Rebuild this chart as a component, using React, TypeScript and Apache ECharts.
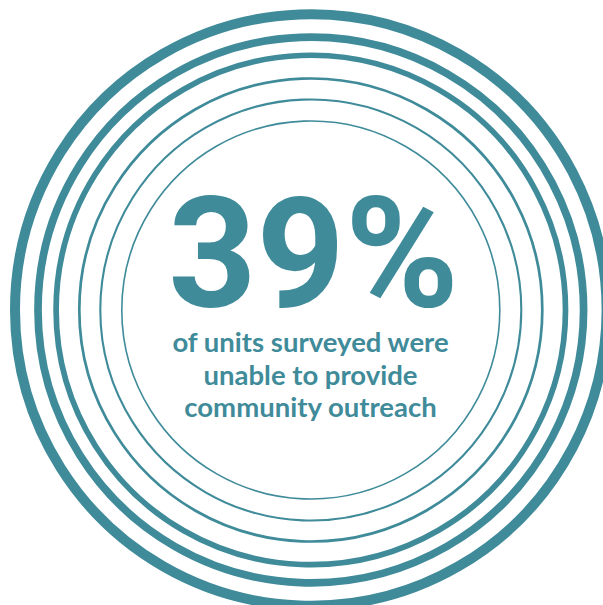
import React, { useEffect, useRef } from "react";
import * as echarts from "echarts";

// ---- data ----
const headlineValue = [39];
const headlineUnit = ["%"];
const captionLines = [
  "of units surveyed were",
  "unable to provide",
  "community outreach",
];

// ---- layout / style ----
const TEAL = "#3f8b9a";
const CX = 310.8;
const CY = 310;
const RING_RADII = [295.8, 272.8, 254.7, 231.5, 210.5, 189];
const RING_WIDTHS = [10, 7.7, 5.7, 2.7, 2.1, 1.6];

export default function App() {
  const ref = useRef<HTMLDivElement>(null);
  useEffect(() => {
    if (!ref.current) return;
    const chart = echarts.init(ref.current, undefined, { renderer: "svg" });
    const rings = RING_RADII.map((r, i) => ({
      type: "circle",
      shape: { cx: CX, cy: CY, r },
      style: { fill: "none", stroke: TEAL, lineWidth: RING_WIDTHS[i] },
      silent: true,
    }));
    const headline = {
      type: "text",
      x: 313.5,
      y: 254,
      style: {
        text: `${headlineValue[0]}${headlineUnit[0]}`,
        fill: TEAL,
        font: "bold 154px Roboto",
        lineHeight: 112,
        textAlign: "center",
        textVerticalAlign: "middle",
        verticalAlign: "middle",
      },
    };
    const captionY = [341, 374, 406];
    const captions = captionLines.map((t, i) => ({
      type: "text",
      x: 310.5,
      y: captionY[i],
      style: {
        text: t,
        fill: TEAL,
        font: "bold 27.5px Lato",
        lineHeight: 30,
        textAlign: "center",
        textVerticalAlign: "middle",
        verticalAlign: "middle",
      },
    }));
    chart.setOption({
      animation: false,
      backgroundColor: "#ffffff",
      graphic: { elements: [...rings, headline, ...captions] as any },
    });
    return () => chart.dispose();
  }, []);
  return (
    <div
      ref={ref}
      style={{ position: "fixed", left: 0, top: 0, width: 603, height: 605 }}
    />
  );
}
